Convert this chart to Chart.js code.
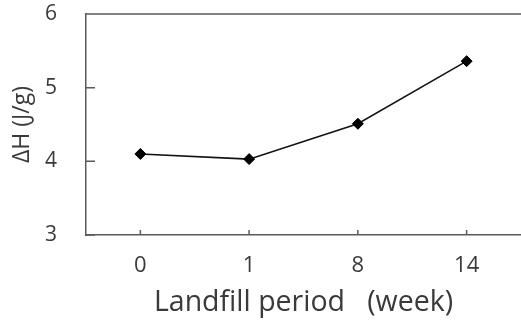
<!DOCTYPE html>
<html>
<head>
<meta charset="utf-8">
<script src="https://cdn.jsdelivr.net/npm/chart.js@4/dist/chart.umd.min.js"></script>
<style>
html,body{margin:0;padding:0;background:#fff;}
canvas{display:block;}
</style>
</head>
<body>
<canvas id="c" width="521" height="320"></canvas>
<script>
const categories = ['0', '1', '8', '14'];
const deltaH = [4.10, 4.03, 4.51, 5.36];
const yTicks = [3, 4, 5, 6];
const xTitle = 'Landfill period   (week)';
const yTitle = 'ΔH (J/g)';

const axisColor = '#5a5a5a';
const textColor = '#3a3a3a';
const fontFamily = "'Open Sans', 'Noto Sans', sans-serif";
const hidden = 'rgba(0,0,0,0)';

const frame = {
  id: 'frame',
  afterDraw(chart) {
    const {ctx, chartArea: a, scales: {x, y}} = chart;
    ctx.save();
    ctx.strokeStyle = axisColor;
    ctx.lineWidth = 1.5;
    ctx.beginPath();
    ctx.moveTo(a.left, a.top);
    ctx.lineTo(a.right, a.top);
    yTicks.forEach(v => {
      const py = y.getPixelForValue(v);
      ctx.moveTo(a.left, py);
      ctx.lineTo(a.left + 9, py);
    });
    categories.forEach((c, i) => {
      const px = x.getPixelForTick(i);
      ctx.moveTo(px, a.bottom);
      ctx.lineTo(px, a.bottom - 5);
    });
    ctx.stroke();
    ctx.restore();
  }
};

new Chart(document.getElementById('c'), {
  type: 'line',
  data: {
    labels: categories,
    datasets: [{
      data: deltaH,
      borderColor: '#111',
      borderWidth: 1.5,
      pointStyle: 'rectRot',
      pointRadius: 5.5,
      pointBackgroundColor: '#000',
      pointBorderColor: '#000',
      pointBorderWidth: 1,
      tension: 0,
      clip: false
    }]
  },
  options: {
    responsive: false,
    animation: false,
    events: [],
    layout: {autoPadding: false, padding: {top: 14, right: 0, left: 0, bottom: 0}},
    plugins: {legend: {display: false}, tooltip: {enabled: false}},
    scales: {
      x: {
        offset: true,
        grid: {display: true, drawOnChartArea: false, drawTicks: true, tickLength: 15, tickColor: hidden},
        border: {display: true, color: axisColor, width: 1.5},
        ticks: {color: textColor, font: {family: fontFamily, size: 22}, padding: 3, maxRotation: 0},
        title: {display: true, text: xTitle, color: textColor, font: {family: fontFamily, size: 28.5}, padding: {top: 0, bottom: 0}},
        afterFit(s) { s.height = 85; s.paddingLeft = 0; s.paddingRight = 0; }
      },
      y: {
        min: 3, max: 6,
        grid: {display: true, drawOnChartArea: false, drawTicks: true, tickLength: 26, tickColor: hidden},
        border: {display: true, color: axisColor, width: 1.5},
        afterBuildTicks(s) { s.ticks = yTicks.map(v => ({value: v})); },
        ticks: {color: textColor, font: {family: fontFamily, size: 21}, padding: 3},
        title: {display: true, text: yTitle, color: textColor, font: {family: fontFamily, size: 23}, padding: {top: 9, bottom: 0}},
        afterFit(s) { s.width = 86; s.paddingTop = 0; s.paddingBottom = 0; }
      }
    }
  },
  plugins: [frame]
});
</script>
</body>
</html>
